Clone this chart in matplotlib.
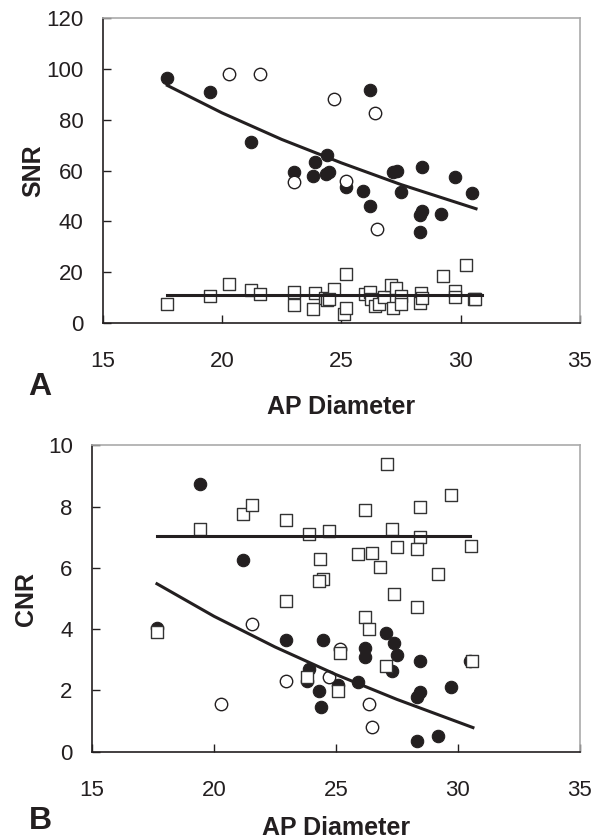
import numpy as np
import matplotlib
matplotlib.use("Agg")
import matplotlib.pyplot as plt

plt.rcParams['font.family'] = ['Liberation Sans', 'DejaVu Sans']

# --- panel A: SNR ---
snr_filled_x = [17.7, 19.5, 21.2, 23.0, 23.9, 24.4, 23.8, 24.35, 24.5, 26.2, 25.2, 25.9,
                26.2, 27.15, 27.35, 28.4, 27.5, 29.75, 30.5, 28.3, 28.4, 29.2, 28.3]
snr_filled_y = [96.5, 91.0, 71.1, 59.3, 63.2, 66.0, 57.7, 58.6, 59.5, 91.5, 53.4, 52.1,
                46.2, 59.6, 59.8, 61.3, 51.4, 57.3, 51.0, 42.5, 44.0, 42.9, 35.7]
snr_open_x = [20.3, 21.6, 24.7, 23.0, 26.4, 25.2, 26.5]
snr_open_y = [97.8, 98.0, 87.9, 55.4, 82.5, 55.8, 37.0]
snr_sq_x = [17.7, 19.5, 20.3, 21.2, 21.6, 23.0, 23.0, 23.9, 23.8, 24.3, 24.4, 24.7,
            25.2, 25.1, 25.2, 24.5, 26.0, 26.2, 26.25, 26.4, 26.6, 26.8, 27.1, 27.3,
            27.15, 27.5, 27.5, 28.35, 28.3, 28.4, 29.26, 29.75, 29.75, 30.24, 30.57, 30.6]
snr_sq_y = [7.7, 10.8, 15.4, 13.0, 11.7, 12.3, 7.1, 11.8, 5.8, 10.1, 9.2, 13.6,
            19.3, 3.5, 6.2, 9.4, 11.4, 12.3, 9.7, 6.8, 7.5, 10.4, 15.0, 14.0,
            6.2, 10.8, 7.5, 12.1, 8.1, 9.9, 18.6, 12.7, 10.5, 22.8, 9.7, 9.4]
# trend lines
snr_trend_x = [17.7, 20.0, 22.5, 25.0, 27.5, 30.65]
snr_trend_y = [93.4, 82.6, 72.2, 63.0, 54.5, 45.0]
snr_flat_x = [17.7, 30.9]
snr_flat_y = [11.0, 11.0]

# --- panel B: CNR ---
cnr_filled_x = [19.44, 21.2, 17.66, 22.97, 24.48, 23.9, 23.8, 24.3, 24.4, 25.1, 27.06, 27.4,
                27.5, 26.2, 26.2, 27.3, 28.43, 25.9, 28.43, 28.33, 29.73, 28.33, 29.18, 30.5]
cnr_filled_y = [8.75, 6.24, 4.03, 3.66, 3.66, 2.7, 2.3, 1.99, 1.47, 2.18, 3.88, 3.55,
                3.17, 3.38, 3.08, 2.65, 2.97, 2.29, 1.94, 1.78, 2.1, 0.36, 0.5, 2.95]
cnr_open_x = [21.57, 22.97, 24.7, 20.27, 25.17, 26.37, 26.48]
cnr_open_y = [4.17, 2.3, 2.43, 1.56, 3.36, 1.56, 0.82]
cnr_sq_x = [17.66, 19.44, 21.2, 21.57, 22.97, 23.9, 24.7, 24.35, 24.48, 24.3, 22.94, 27.09,
            29.73, 26.2, 28.43, 27.3, 28.43, 27.5, 28.33, 30.53, 25.9, 26.47, 26.8, 29.2,
            27.4, 28.33, 26.2, 26.37, 25.17, 25.1, 27.06, 30.58, 23.8]
cnr_sq_y = [3.9, 7.28, 7.77, 8.04, 7.55, 7.11, 7.19, 6.3, 5.64, 5.57, 4.91, 9.4,
            8.39, 7.88, 8.0, 7.28, 7.0, 6.68, 6.62, 6.71, 6.44, 6.49, 6.02, 5.8,
            5.15, 4.72, 4.41, 4.0, 3.23, 1.97, 2.79, 2.97, 2.45]
cnr_trend_x = [17.66, 20.0, 22.5, 25.0, 27.5, 30.62]
cnr_trend_y = [5.48, 4.42, 3.42, 2.52, 1.71, 0.79]
cnr_flat_x = [17.66, 30.5]
cnr_flat_y = [7.03, 7.03]

ink = '#231f20'


def panel(ax, fx, fy, ox, oy, sx, sy, tx, ty, hx, hy, ylim, yticks, ylabel):
    ax.scatter(fx, fy, s=80, c=ink, edgecolors=ink, linewidths=0.8, zorder=2)
    ax.scatter(ox, oy, s=80, c='white', edgecolors=ink, linewidths=1.0, zorder=3)
    ax.scatter(sx, sy, s=85, marker='s', c='white', edgecolors='#333333', linewidths=1.0, zorder=4)
    ax.plot(tx, ty, color=ink, lw=2.2, zorder=5)
    ax.plot(hx, hy, color=ink, lw=2.2, zorder=5)
    ax.set_xlim(15, 35)
    ax.set_ylim(*ylim)
    ax.set_xticks([15, 20, 25, 30, 35])
    ax.set_yticks(yticks)
    ax.tick_params(direction='in', length=6, width=1, labelsize=16, colors=ink)
    ax.tick_params(axis='x', pad=20)
    ax.tick_params(axis='y', pad=14)
    for s in ['left', 'bottom']:
        ax.spines[s].set_color(ink)
        ax.spines[s].set_linewidth(1.2)
    for s in ['top', 'right']:
        ax.spines[s].set_color('#aaaaaa')
        ax.spines[s].set_linewidth(1.2)
    ax.set_ylabel(ylabel, fontsize=18, fontweight='bold', color=ink)


fig = plt.figure(figsize=(6.02, 8.4), dpi=100)
axA = fig.add_axes([0.171, 0.615, 0.792, 0.364])
axB = fig.add_axes([0.153, 0.105, 0.81, 0.365])

panel(axA, snr_filled_x, snr_filled_y, snr_open_x, snr_open_y, snr_sq_x, snr_sq_y,
      snr_trend_x, snr_trend_y, snr_flat_x, snr_flat_y,
      (0, 120), [0, 20, 40, 60, 80, 100, 120], 'SNR')
panel(axB, cnr_filled_x, cnr_filled_y, cnr_open_x, cnr_open_y, cnr_sq_x, cnr_sq_y,
      cnr_trend_x, cnr_trend_y, cnr_flat_x, cnr_flat_y,
      (0, 10), [0, 2, 4, 6, 8, 10], 'CNR')

axA.yaxis.set_label_coords(-0.12, 0.5)
axB.yaxis.set_label_coords(-0.11, 0.5)

fig.text(341 / 602, 1 - 407 / 840, 'AP Diameter', fontsize=18, fontweight='bold',
         color=ink, ha='center', va='center')
fig.text(336 / 602, 1 - 828 / 840, 'AP Diameter', fontsize=18, fontweight='bold',
         color=ink, ha='center', va='center')
fig.text(40 / 602, 1 - 387 / 840, 'A', fontsize=23, fontweight='bold', color=ink,
         ha='center', va='center')
fig.text(40 / 602, 1 - 821 / 840, 'B', fontsize=23, fontweight='bold', color=ink,
         ha='center', va='center')

fig.savefig('out.png', dpi=100)
